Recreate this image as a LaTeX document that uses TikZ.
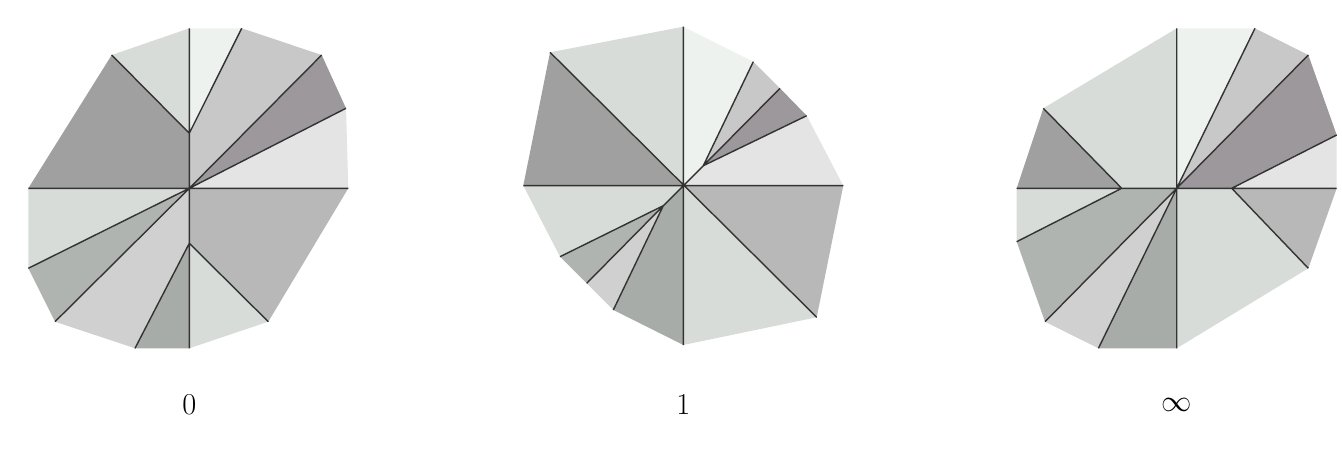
\documentclass[tikz,border=0pt]{standalone}
\definecolor{shA}{RGB}{216,220,216}
\definecolor{shB}{RGB}{238,242,238}
\definecolor{shC}{RGB}{200,200,200}
\definecolor{shD}{RGB}{156,152,156}
\definecolor{shE}{RGB}{228,228,228}
\definecolor{shF}{RGB}{184,184,184}
\definecolor{shG}{RGB}{168,172,168}
\definecolor{shH}{RGB}{208,208,208}
\definecolor{shI}{RGB}{176,180,176}
\definecolor{shJ}{RGB}{160,160,160}
\begin{document}
\begin{tikzpicture}[x=0.02cm, y=-0.02cm, cut/.style={draw=black!80, line width=0.8pt}]
	\useasboundingbox (0,0) rectangle (1342,449);
	% left polygon
	\coordinate (c0) at (189.3,188.3);
	\coordinate (a0) at (189.3,28.3);  \coordinate (b0) at (241.7,28.3);
	\coordinate (d0) at (321.7,55);    \coordinate (e0) at (346,108.3);
	\coordinate (f0) at (348.3,188.3); \coordinate (g0) at (268.3,321.7);
	\coordinate (h0) at (189.3,348.3); \coordinate (i0) at (135,348.3);
	\coordinate (j0) at (55,321.7);    \coordinate (k0) at (28.3,268.3);
	\coordinate (l0) at (28.3,188.3);  \coordinate (m0) at (111.7,55);
	\coordinate (p0) at (189.3,133.3); \coordinate (q0) at (189.3,243.3);
	\fill[shA] (m0) -- (a0) -- (p0) -- cycle;
	\fill[shB] (a0) -- (b0) -- (p0) -- cycle;
	\fill[shC] (b0) -- (d0) -- (c0) -- (p0) -- cycle;
	\fill[shD] (d0) -- (e0) -- (c0) -- cycle;
	\fill[shE] (e0) -- (f0) -- (c0) -- cycle;
	\fill[shF] (c0) -- (f0) -- (g0) -- (q0) -- cycle;
	\fill[shA] (q0) -- (g0) -- (h0) -- cycle;
	\fill[shG] (q0) -- (h0) -- (i0) -- cycle;
	\fill[shH] (c0) -- (q0) -- (i0) -- (j0) -- cycle;
	\fill[shI] (c0) -- (j0) -- (k0) -- cycle;
	\fill[shA] (c0) -- (k0) -- (l0) -- cycle;
	\fill[shJ] (c0) -- (l0) -- (m0) -- (p0) -- cycle;
	\draw[cut] (a0) -- (h0) (l0) -- (f0) (m0) -- (p0) -- (b0) (d0) -- (c0) -- (e0)
		(g0) -- (q0) -- (i0) (j0) -- (c0) -- (k0);
	\node (lab0) at (189.3,405) {\fontsize{17}{20}\selectfont $0$};
	% middle polygon
	\coordinate (c1) at (683.3,185.7);
	\coordinate (a1) at (683.3,26.7);  \coordinate (b1) at (753.3,61.7);
	\coordinate (d1) at (780,88.3);    \coordinate (e1) at (806.7,115.7);
	\coordinate (f1) at (843.3,185.7); \coordinate (g1) at (816.7,317.3);
	\coordinate (h1) at (683.3,345);   \coordinate (i1) at (613.3,310);
	\coordinate (j1) at (586.7,283.3); \coordinate (k1) at (560,256.7);
	\coordinate (l1) at (523.3,185.7); \coordinate (m1) at (550,52.3);
	\coordinate (p1) at (703.3,165.7); \coordinate (q1) at (663.3,205.7);
	\fill[shA] (m1) -- (a1) -- (c1) -- cycle;
	\fill[shB] (a1) -- (b1) -- (p1) -- (c1) -- cycle;
	\fill[shC] (b1) -- (d1) -- (p1) -- cycle;
	\fill[shD] (d1) -- (e1) -- (p1) -- cycle;
	\fill[shE] (e1) -- (f1) -- (c1) -- (p1) -- cycle;
	\fill[shF] (c1) -- (f1) -- (g1) -- cycle;
	\fill[shA] (c1) -- (g1) -- (h1) -- cycle;
	\fill[shG] (c1) -- (h1) -- (i1) -- (q1) -- cycle;
	\fill[shH] (q1) -- (i1) -- (j1) -- cycle;
	\fill[shI] (q1) -- (j1) -- (k1) -- cycle;
	\fill[shA] (q1) -- (k1) -- (l1) -- (c1) -- cycle;
	\fill[shJ] (c1) -- (l1) -- (m1) -- cycle;
	\draw[cut] (a1) -- (h1) (l1) -- (f1) (m1) -- (g1) (b1) -- (p1) -- (d1) (e1) -- (p1) -- (c1)
		-- (q1) -- (i1) (j1) -- (q1) -- (k1);
	\node (lab1) at (683.3,405) {\fontsize{17}{20}\selectfont $1$};
	% right polygon
	\coordinate (c2) at (1176.7,188.3);
	\coordinate (a2) at (1176.7,28.3);  \coordinate (b2) at (1255,28.3);
	\coordinate (d2) at (1308.3,55);    \coordinate (e2) at (1336.7,135);
	\coordinate (f2) at (1336.7,188.3); \coordinate (g2) at (1308.3,268.3);
	\coordinate (h2) at (1176.7,348.3); \coordinate (i2) at (1098.4,348.3);
	\coordinate (j2) at (1045,321.7);   \coordinate (k2) at (1016.7,241.7);
	\coordinate (l2) at (1016.7,188.3); \coordinate (m2) at (1043.3,108.3);
	\coordinate (p2) at (1231.7,188.3); \coordinate (q2) at (1121.7,188.3);
	\fill[shA] (m2) -- (a2) -- (c2) -- (q2) -- cycle;
	\fill[shB] (a2) -- (b2) -- (c2) -- cycle;
	\fill[shC] (b2) -- (d2) -- (c2) -- cycle;
	\fill[shD] (d2) -- (e2) -- (p2) -- (c2) -- cycle;
	\fill[shE] (e2) -- (f2) -- (p2) -- cycle;
	\fill[shF] (p2) -- (f2) -- (g2) -- cycle;
	\fill[shA] (c2) -- (p2) -- (g2) -- (h2) -- cycle;
	\fill[shG] (c2) -- (h2) -- (i2) -- cycle;
	\fill[shH] (c2) -- (i2) -- (j2) -- cycle;
	\fill[shI] (c2) -- (j2) -- (k2) -- (q2) -- cycle;
	\fill[shA] (q2) -- (k2) -- (l2) -- cycle;
	\fill[shJ] (q2) -- (l2) -- (m2) -- cycle;
	\draw[cut] (a2) -- (h2) (l2) -- (f2) (b2) -- (c2) -- (d2) (e2) -- (p2) -- (g2)
		(i2) -- (c2) -- (j2) (k2) -- (q2) -- (m2);
	\node (lab2) at (1176.7,405) {\fontsize{17}{20}\selectfont $\infty$};
\end{tikzpicture}
\end{document}
